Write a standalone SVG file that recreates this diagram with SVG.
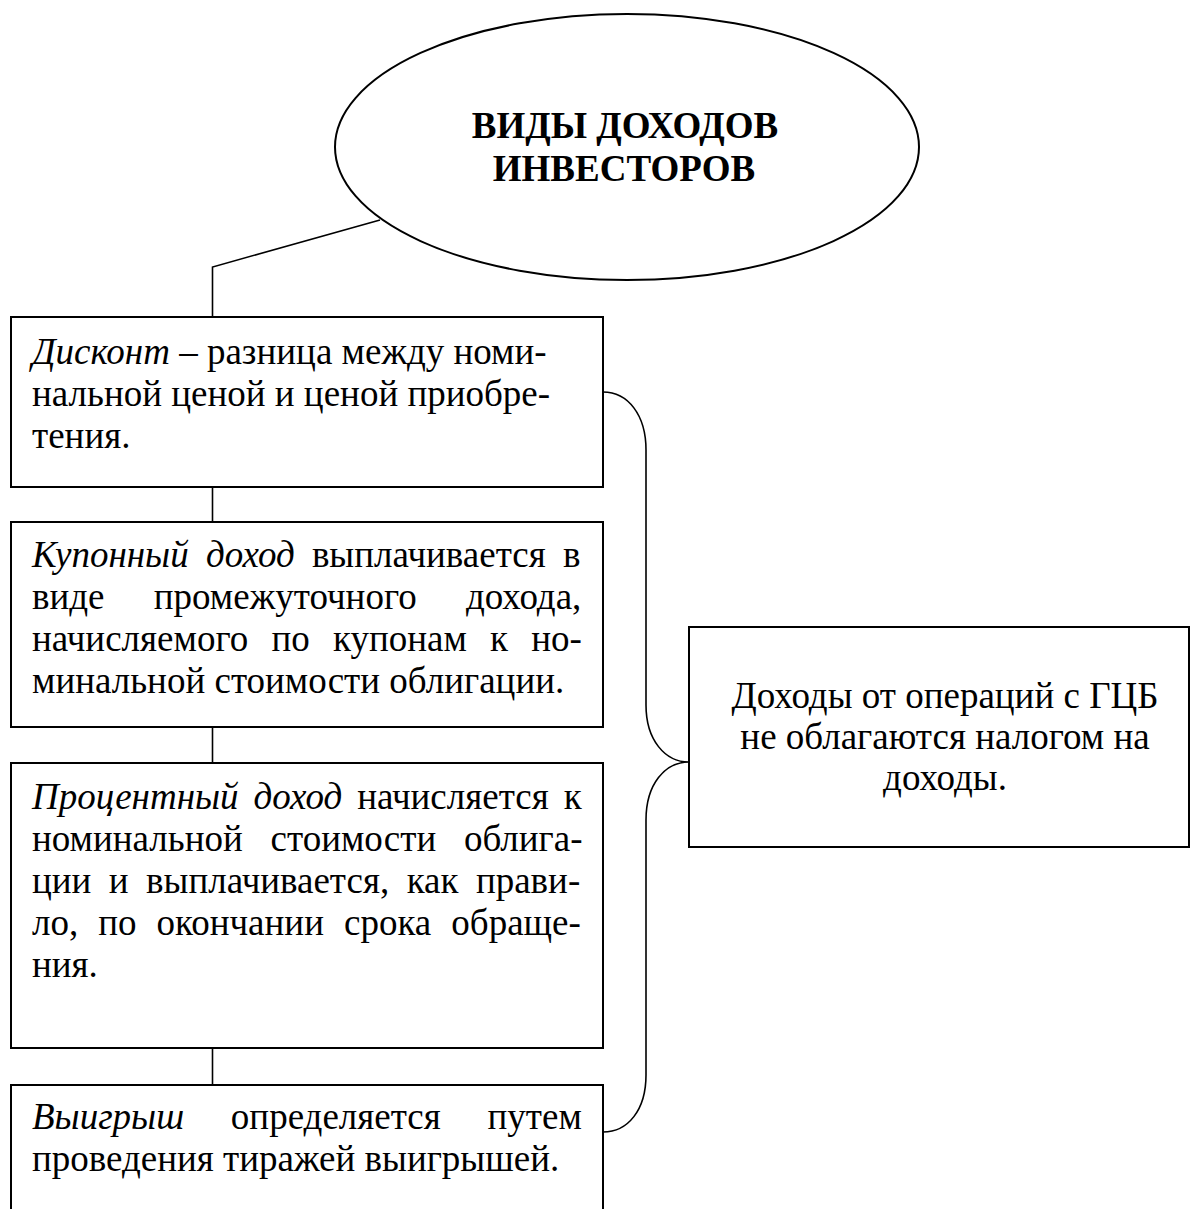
<svg xmlns="http://www.w3.org/2000/svg" width="1192" height="1209" viewBox="0 0 1192 1209">
  <style>
    .box { fill: #ffffff; stroke: #000000; stroke-width: 2; }
    .ln { fill: none; stroke: #000000; stroke-width: 1.6; }
    .t { font-family: "Liberation Serif", "Times New Roman", serif; font-size: 37px; fill: #000000; }
    .i { font-style: italic; }
    .b { font-weight: bold; }
    .c { text-anchor: middle; }
  </style>
  <rect x="0" y="0" width="1192" height="1209" fill="#ffffff"/>

  <g id="connectors">
    <polyline class="ln" points="380,220 212.5,267 212.5,317"/>
    <line class="ln" x1="212.5" y1="487" x2="212.5" y2="522"/>
    <line class="ln" x1="212.5" y1="727" x2="212.5" y2="763"/>
    <line class="ln" x1="212.5" y1="1048" x2="212.5" y2="1085"/>
    <path class="ln" d="M603,392 C628,392 646,415 646,450 L646,705 C646,740 665,762 689,762 C665,762 646,784 646,820 L646,1075 C646,1110 628,1132 603,1132"/>
  </g>

  <g id="title">
    <ellipse cx="627" cy="147" rx="292" ry="133" fill="#ffffff" stroke="#000000" stroke-width="2"/>
    <text class="t b c" x="625" y="138">ВИДЫ ДОХОДОВ</text>
    <text class="t b c" x="624" y="181">ИНВЕСТОРОВ</text>
  </g>

  <g id="discount">
    <rect class="box" x="11" y="317" width="592" height="170"/>
    <text class="t" x="32" y="364"><tspan class="i">Дисконт</tspan> – разница между номи-</text>
    <text class="t" x="32" y="406">нальной ценой и ценой приобре-</text>
    <text class="t" x="32" y="448">тения.</text>
  </g>

  <g id="coupon">
    <rect class="box" x="11" y="522" width="592" height="205"/>
    <text class="t" x="32" y="567" word-spacing="8"><tspan class="i">Купонный доход</tspan> выплачивается в</text>
    <text class="t" x="32" y="609" word-spacing="40">виде промежуточного дохода,</text>
    <text class="t" x="32" y="651" word-spacing="14">начисляемого по купонам к но-</text>
    <text class="t" x="32" y="693">минальной стоимости облигации.</text>
  </g>

  <g id="interest">
    <rect class="box" x="11" y="763" width="592" height="285"/>
    <text class="t" x="32" y="809" word-spacing="5.7"><tspan class="i">Процентный доход</tspan> начисляется к</text>
    <text class="t" x="32" y="851" word-spacing="18.5">номинальной стоимости облига-</text>
    <text class="t" x="32" y="893" word-spacing="8.2">ции и выплачивается, как прави-</text>
    <text class="t" x="32" y="935" word-spacing="10.8">ло, по окончании срока обраще-</text>
    <text class="t" x="32" y="977">ния.</text>
  </g>

  <g id="prize">
    <rect class="box" x="11" y="1085" width="592" height="140"/>
    <text class="t" x="32" y="1129" word-spacing="37.5"><tspan class="i">Выигрыш</tspan> определяется путем</text>
    <text class="t" x="32" y="1171">проведения тиражей выигрышей.</text>
  </g>

  <g id="tax">
    <rect class="box" x="689" y="627" width="500" height="220"/>
    <text class="t c" x="945" y="708">Доходы от операций с ГЦБ</text>
    <text class="t c" x="945" y="749">не облагаются налогом на</text>
    <text class="t c" x="945" y="790">доходы.</text>
  </g>
</svg>
